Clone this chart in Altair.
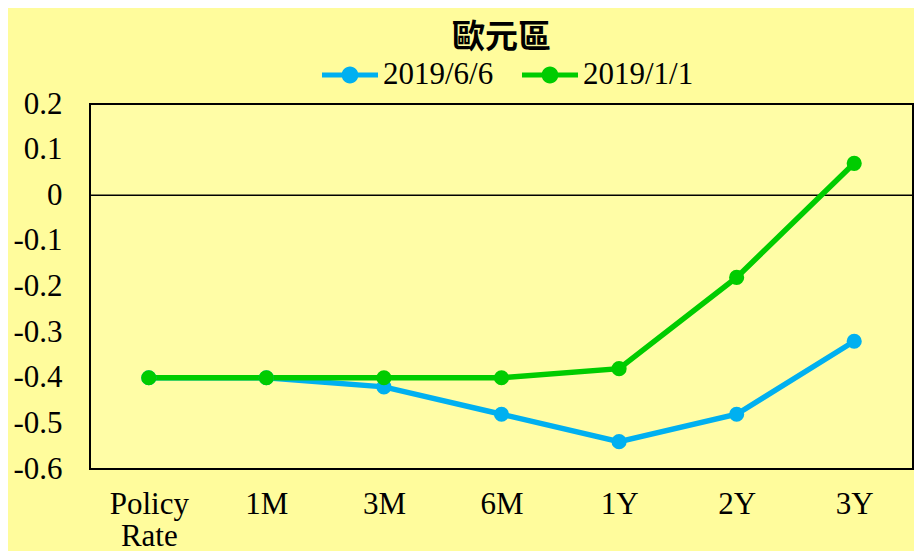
import altair as alt
import pandas as pd

categories = ["Policy Rate", "1M", "3M", "6M", "1Y", "2Y", "3Y"]
series_names = ["2019/6/6", "2019/1/1"]
values_0606 = [-0.40, -0.40, -0.42, -0.48, -0.54, -0.48, -0.32]
values_0101 = [-0.40, -0.40, -0.40, -0.40, -0.38, -0.18, 0.07]
y_ticks = [0.2, 0.1, 0, -0.1, -0.2, -0.3, -0.4, -0.5, -0.6]
colors = ["#00B0F0", "#00CC00"]

rows = []
for c, v in zip(categories, values_0606):
    rows.append({"term": c, "series": series_names[0], "value": v})
for c, v in zip(categories, values_0101):
    rows.append({"term": c, "series": series_names[1], "value": v})
df = pd.DataFrame(rows)

legend_symbol = (
    "M-1,-0.09 L1,-0.09 L1,0.09 L-1,0.09 Z "
    "M0.3,0 A0.3,0.3 0 1,1 -0.3,0 A0.3,0.3 0 1,1 0.3,0 Z"
)

FS = 31

x_enc = alt.X(
    "term:N",
    sort=categories,
    scale=alt.Scale(paddingInner=1, paddingOuter=0.5),
    axis=alt.Axis(
        title=None,
        labelAngle=0,
        labelFont="Liberation Serif",
        labelFontSize=FS,
        labelColor="black",
        labelPadding=20,
        labelLineHeight=32,
        labelBaseline="top",
        ticks=False,
        domain=False,
        grid=False,
        labelExpr="datum.value == 'Policy Rate' ? ['Policy', 'Rate'] : datum.value",
    ),
)
y_enc = alt.Y(
    "value:Q",
    scale=alt.Scale(domain=[-0.6, 0.2], nice=False, zero=False),
    axis=alt.Axis(
        title=None,
        values=y_ticks,
        labelFont="Liberation Serif",
        labelFontSize=FS,
        labelColor="black",
        labelPadding=28,
        ticks=False,
        domain=False,
        grid=False,
        labelExpr="datum.value < 0 ? '-' + format(-datum.value, '.1~f') : format(datum.value, '.1~f')",
    ),
)
color_enc = alt.Color(
    "series:N",
    sort=series_names,
    scale=alt.Scale(domain=series_names, range=colors),
    legend=alt.Legend(
        title=None,
        orient="none",
        legendX=232,
        legendY=-57,
        direction="horizontal",
        labelFont="Liberation Serif",
        labelFontSize=FS,
        labelColor="black",
        symbolType=legend_symbol,
        symbolSize=3136,
        symbolStrokeWidth=0,
        symbolOpacity=1,
        labelOffset=5,
        columnPadding=28,
        padding=0,
    ),
)

base = alt.Chart(df)

zero = alt.Chart(pd.DataFrame({"z": [0]})).mark_rule(color="black", strokeWidth=1.5).encode(y="z:Q")

lines = base.mark_line(strokeWidth=5.5).encode(x=x_enc, y=y_enc, color=color_enc, detail="series:N")
points = base.mark_circle(size=230, opacity=1).encode(
    x=x_enc,
    y=y_enc,
    color=alt.Color("series:N", sort=series_names, scale=alt.Scale(domain=series_names, range=colors), legend=None),
)

chart = (
    alt.layer(zero, lines, points)
    .properties(
        width=823,
        height=365,
        title=alt.TitleParams(
            "歐元區",
            font="Noto Sans CJK TC",
            fontSize=33,
            fontWeight="bold",
            color="black",
            anchor="middle",
            offset=-8,
        ),
        autosize=alt.AutoSizeParams(type="none"),
        padding={"left": 82, "top": 96, "right": 1, "bottom": 82},
        background="#FFFC9C",
    )
    .configure_view(stroke="black", strokeWidth=2, fill="#FFFDA6")
)

chart.save("out.html", embed_options={"renderer": "svg", "actions": False})
